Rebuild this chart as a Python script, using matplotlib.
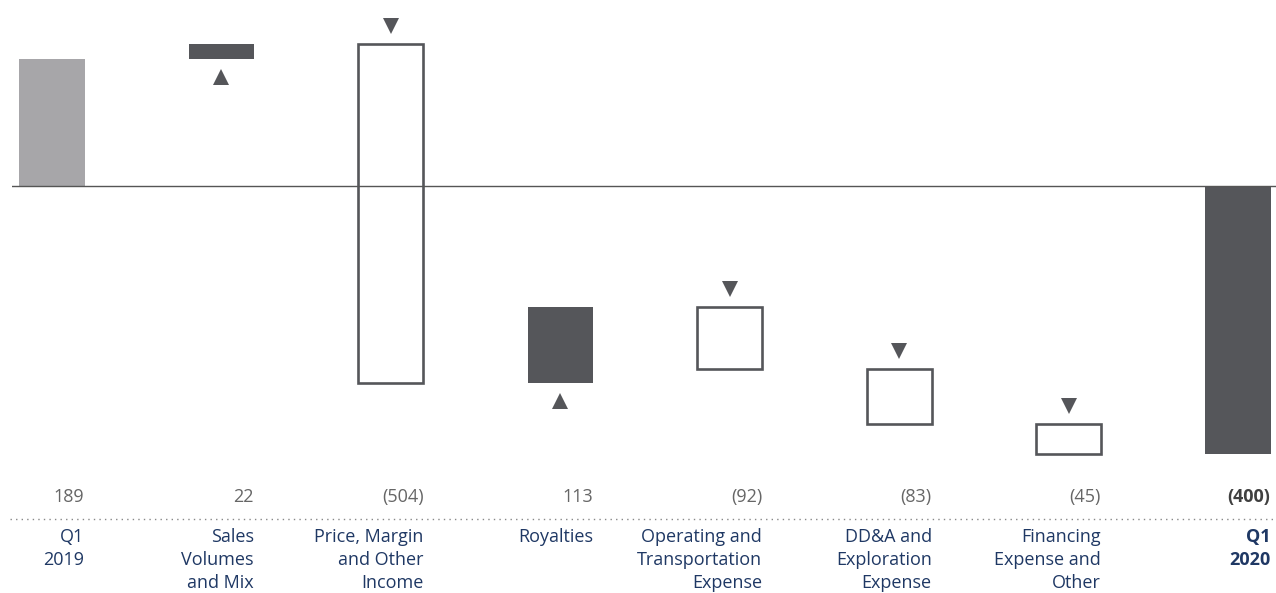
import matplotlib
matplotlib.use("Agg")
import matplotlib.pyplot as plt
from matplotlib.patches import Rectangle
from matplotlib.lines import Line2D

categories = ["Q1\n2019", "Sales\nVolumes\nand Mix", "Price, Margin\nand Other\nIncome",
              "Royalties", "Operating and\nTransportation\nExpense", "DD&A and\nExploration\nExpense",
              "Financing\nExpense and\nOther", "Q1\n2020"]
values = [189, 22, -504, 113, -92, -83, -45, -400]
value_labels = ["189", "22", "(504)", "113", "(92)", "(83)", "(45)", "(400)"]
kinds = ["total", "delta", "delta", "delta", "delta", "delta", "delta", "total"]

plt.rcParams['font.family'] = ['Open Sans', 'DejaVu Sans']

W, H = 1276, 593
fig = plt.figure(figsize=(W / 100, H / 100), dpi=100)
ax = fig.add_axes([12 / W, 0, 1 - 12 / W, 1])
ax.set_axis_off()

spacing = 169.43
scale = 0.671  # px per unit
ax.set_xlim(-(52 - 12) / spacing, 7 + (1276 - 1238) / spacing)
ax.set_ylim(-(H - 186) / scale, 186 / scale)

bw = 0.384
light = "#a7a6a9"
dark = "#55565a"
navy = "#1f3864"
tri_off = 18 / scale

running = 0
for i, (v, k) in enumerate(zip(values, kinds)):
    if k == "total":
        bottom, top = min(0, v), max(0, v)
        color = light if i == 0 else dark
        ax.add_patch(Rectangle((i - bw / 2, bottom), bw, top - bottom, facecolor=color, edgecolor='none'))
        running = v
    else:
        start, end = running, running + v
        bottom, top = min(start, end), max(start, end)
        if v > 0:
            ax.add_patch(Rectangle((i - bw / 2, bottom), bw, top - bottom, facecolor=dark, edgecolor='none'))
            ax.plot([i], [bottom - tri_off], marker='^', color=dark, markersize=11.5, markeredgewidth=0)
        else:
            ax.add_patch(Rectangle((i - bw / 2, bottom), bw, top - bottom, facecolor='white',
                                   edgecolor=dark, linewidth=1.9))
            ax.plot([i], [top + tri_off], marker='v', color=dark, markersize=11.5, markeredgewidth=0)
        running = end

ax.axhline(0, color="#555555", linewidth=1.0, zorder=3)

trans = ax.get_xaxis_transform()
for i, (lab, vl, k) in enumerate(zip(categories, value_labels, kinds)):
    bold = (i == len(categories) - 1)
    ax.text(i + bw / 2, 1 - 497 / H, vl, transform=trans, ha='right', va='center',
            fontsize=13, color="#666666" if not bold else "#404040",
            fontweight='bold' if bold else 'normal')
    ax.text(i + bw / 2, 1 - 528 / H, lab, transform=trans, ha='right', va='top',
            fontsize=13, color=navy, linespacing=1.36,
            fontweight='bold' if bold else 'normal')

fig.add_artist(Line2D([10 / W, 1], [1 - 519 / H, 1 - 519 / H], color="#888888",
                      linewidth=1.0, linestyle=(0, (1, 3))))

fig.savefig("out.png", dpi=100, facecolor='white')
